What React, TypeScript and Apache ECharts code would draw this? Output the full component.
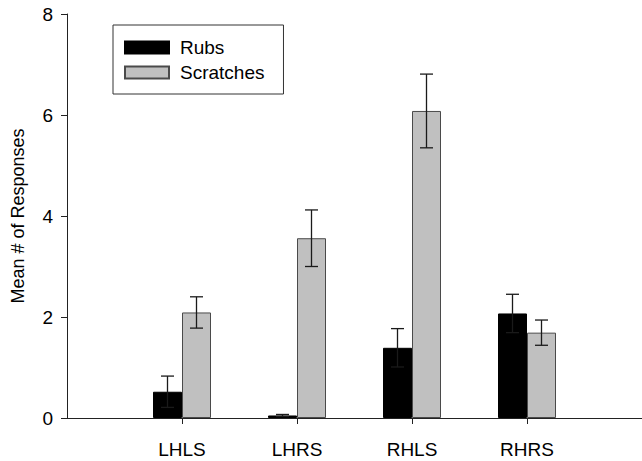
import React, { useEffect, useRef } from "react";
import * as echarts from "echarts";

const categories = ["", "LHLS", "LHRS", "RHLS", "RHRS", ""];
const rubs = [null, 0.52, 0.05, 1.39, 2.07, null];
const rubsErr = [null, 0.31, 0.02, 0.38, 0.38, null];
const scratches = [null, 2.09, 3.56, 6.08, 1.69, null];
const scratchesErr = [null, 0.31, 0.56, 0.73, 0.25, null];
const yTicks = { min: 0, max: 8, interval: 2 };

const BAR_W = 29;
const FONT = "Liberation Sans, Arial, sans-serif";

function errorSeries(name: string, values: (number | null)[], errs: (number | null)[], offset: number) {
  const data = values
    .map((v, i) => (v == null || errs[i] == null ? null : [i, v - (errs[i] as number), v + (errs[i] as number)]))
    .filter((d) => d !== null);
  return {
    type: "custom",
    name: name + "-err",
    z: 10,
    silent: true,
    data,
    renderItem: (params: any, api: any) => {
      const i = api.value(0);
      const lo = api.coord([i, api.value(1)]);
      const hi = api.coord([i, api.value(2)]);
      const x = lo[0] + offset;
      const cap = 6.5;
      const style = { stroke: "#1a1a1a", lineWidth: 1.3 };
      return {
        type: "group",
        children: [
          { type: "line", shape: { x1: x, y1: lo[1], x2: x, y2: hi[1] }, style },
          { type: "line", shape: { x1: x - cap, y1: hi[1], x2: x + cap, y2: hi[1] }, style },
          { type: "line", shape: { x1: x - cap, y1: lo[1], x2: x + cap, y2: lo[1] }, style },
        ],
      };
    },
  };
}

export default function App() {
  const ref = useRef<HTMLDivElement>(null);
  useEffect(() => {
    if (!ref.current) return;
    const chart = echarts.init(ref.current, null, { renderer: "svg" });
    chart.setOption({
      animation: false,
      backgroundColor: "#ffffff",
      grid: { left: 67, right: -2, top: 14, bottom: 43, containLabel: false },
      legend: {
        orient: "vertical",
        left: 113,
        top: 25,
        padding: [13, 19, 12, 11],
        borderColor: "#333",
        borderWidth: 1,
        itemWidth: 44,
        itemHeight: 12,
        itemGap: 6,
        icon: "rect",
        textStyle: { fontFamily: FONT, fontSize: 19, color: "#000", padding: [0, 0, 0, 6] },
        data: ["Rubs", "Scratches"],
      },
      xAxis: {
        type: "category",
        data: categories,
        boundaryGap: false,
        axisLine: { lineStyle: { color: "#222", width: 1 } },
        axisTick: {
          length: 6,
          interval: (index: number) => index >= 1 && index <= 4,
          lineStyle: { color: "#222" },
        },
        axisLabel: {
          fontFamily: FONT,
          fontSize: 19,
          color: "#000",
          margin: 22,
          interval: (index: number) => index >= 1 && index <= 4,
        },
        splitLine: { show: false },
      },
      yAxis: {
        type: "value",
        min: yTicks.min,
        max: yTicks.max,
        interval: yTicks.interval,
        name: "Mean # of Responses",
        nameLocation: "middle",
        nameRotate: 90,
        nameGap: 40,
        nameTextStyle: { fontFamily: FONT, fontSize: 18, color: "#000" },
        axisLine: { show: true, lineStyle: { color: "#222", width: 1 } },
        axisTick: { show: true, length: 6, lineStyle: { color: "#222" } },
        axisLabel: { fontFamily: FONT, fontSize: 19, color: "#000", margin: 14 },
        splitLine: { show: false },
      },
      series: [
        {
          type: "bar",
          name: "Rubs",
          data: rubs,
          barWidth: BAR_W,
          barGap: "0%",
          itemStyle: { color: "#000000", borderColor: "#000000", borderWidth: 1 },
        },
        {
          type: "bar",
          name: "Scratches",
          data: scratches,
          barWidth: BAR_W,
          barGap: "0%",
          itemStyle: { color: "#c0c0c0", borderColor: "#4a4a4a", borderWidth: 1 },
        },
        errorSeries("Rubs", rubs, rubsErr, -BAR_W / 2),
        errorSeries("Scratches", scratches, scratchesErr, BAR_W / 2),
      ],
    });
    return () => chart.dispose();
  }, []);
  return (
    <div
      ref={ref}
      style={{ position: "fixed", left: 0, top: 0, width: 642, height: 461, background: "#fff" }}
    />
  );
}
